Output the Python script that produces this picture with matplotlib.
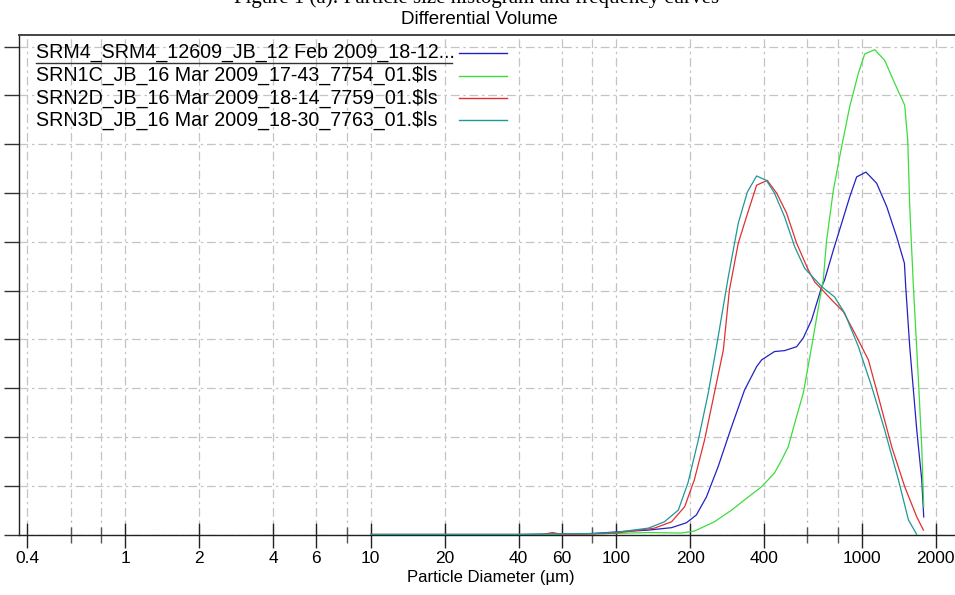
import matplotlib
matplotlib.use("Agg")
import matplotlib.pyplot as plt
from matplotlib.ticker import FixedLocator, NullFormatter, FixedFormatter
from matplotlib.lines import Line2D

# ---------------- data ----------------
labels = [
    "SRM4_SRM4_12609_JB_12 Feb 2009_18-12...",
    "SRN1C_JB_16 Mar 2009_17-43_7754_01.$ls",
    "SRN2D_JB_16 Mar 2009_18-14_7759_01.$ls",
    "SRN3D_JB_16 Mar 2009_18-30_7763_01.$ls",
]
colors = ["#2222c4", "#3ddc3d", "#e03030", "#1e9898"]

srm4_d = [10, 20, 40, 80, 98, 135, 168, 193, 212, 233, 260, 295, 333, 373, 391,
          441, 485, 543, 578, 625, 687, 706, 766, 828, 893, 953, 1040, 1150,
          1264, 1388, 1492, 1510, 1568, 1675, 1755, 1788]
srm4_v = [0, 0, 0, 0.02, 0.05, 0.09, 0.14, 0.24, 0.40, 0.77, 1.39, 2.21, 2.96,
          3.44, 3.58, 3.75, 3.77, 3.85, 4.03, 4.40, 5.08, 5.22, 5.83, 6.38, 6.92,
          7.33, 7.43, 7.20, 6.72, 6.10, 5.56, 5.08, 3.85, 2.14, 1.12, 0.36]

srn1c_d = [10, 20, 40, 80, 135, 184, 208, 251, 295, 345, 391, 441, 472, 502, 533,
           578, 625, 674, 697, 719, 766, 828, 893, 969, 1028, 1129, 1240, 1362,
           1496, 1539, 1568, 1623, 1701, 1755, 1788]
srn1c_v = [0, 0, 0, 0.01, 0.04, 0.03, 0.07, 0.26, 0.50, 0.77, 0.98, 1.26, 1.53,
           1.80, 2.28, 2.90, 3.85, 4.81, 5.22, 6.03, 7.06, 7.95, 8.77, 9.46, 9.85,
           9.94, 9.72, 9.25, 8.80, 8.08, 6.72, 5.08, 3.17, 1.80, 0.57]

srn2d_d = [10, 20, 50, 55, 60, 80, 100, 143, 168, 190, 208, 229, 251, 273, 289,
           314, 339, 373, 412, 450, 494, 543, 606, 643, 754, 841, 936, 1064, 1169,
           1324, 1496, 1675, 1783]
srn2d_v = [0, 0, 0, 0.04, 0, 0.01, 0.03, 0.13, 0.26, 0.57, 1.12, 1.94, 2.90, 3.78,
           5.01, 5.97, 6.51, 7.16, 7.26, 7.00, 6.59, 5.97, 5.42, 5.18, 4.81, 4.57,
           4.13, 3.58, 2.82, 1.80, 0.98, 0.36, 0.09]

srn3d_d = [10, 20, 40, 80, 98, 135, 157, 179, 196, 216, 237, 256, 286, 314, 342,
           373, 409, 441, 485, 533, 585, 687, 775, 852, 969, 1098, 1240, 1410,
           1549, 1675]
srn3d_v = [0, 0, 0, 0.02, 0.04, 0.13, 0.26, 0.50, 1.06, 1.94, 2.90, 3.85, 5.28,
           6.38, 7.02, 7.35, 7.26, 7.00, 6.51, 5.90, 5.46, 5.08, 4.87, 4.54, 3.85,
           3.03, 2.14, 1.12, 0.30, 0.0]

major_ticks = [0.4, 1, 2, 4, 6, 10, 20, 40, 60, 100, 200, 400, 1000, 2000]
major_labels = ["0.4", "1", "2", "4", "6", "10", "20", "40", "60", "100", "200",
                "400", "1000", "2000"]
minor_ticks = [0.6, 0.8, 8, 80, 600, 800]
y_ticks = list(range(0, 11))

title = "Differential Volume"
xlabel = "Particle Diameter (\u00b5m)"
caption = "Figure 1 (a): Particle size histogram and frequency curves"

# ---------------- figure ----------------
plt.rcParams["font.family"] = ["Liberation Sans", "DejaVu Sans"]
W, H = 955, 595
fig = plt.figure(figsize=(W / 100, H / 100), dpi=100)
left_px, right_px, top_px, bot_px = 19, 962, 35, 534.5
ax = fig.add_axes([left_px / W, 1 - bot_px / H, (right_px - left_px) / W,
                   (bot_px - top_px) / H])

series = [(srm4_d, srm4_v), (srn1c_d, srn1c_v), (srn2d_d, srn2d_v), (srn3d_d, srn3d_v)]
for (d, v), c, lab in zip(series, colors, labels):
    ax.plot(d, v, color=c, lw=0.9, label=lab, zorder=3)

ax.set_xscale("log")
ax.set_xlim(0.3695, 2560)
ax.set_ylim(0, 10.24)

ax.xaxis.set_major_locator(FixedLocator(major_ticks))
ax.xaxis.set_major_formatter(FixedFormatter(major_labels))
ax.xaxis.set_minor_locator(FixedLocator(minor_ticks))
ax.xaxis.set_minor_formatter(NullFormatter())
ax.set_yticks(y_ticks)
ax.set_yticklabels([])

ax.tick_params(axis="x", which="major", direction="inout", length=18, width=1,
               labelsize=12.5, pad=3, color="#222222")
ax.tick_params(axis="x", which="minor", direction="inout", length=12, width=1,
               color="#555555")
ax.tick_params(axis="y", which="major", direction="out", length=11, width=1,
               color="#333333")

grid_kw = dict(color="#c4c4c4", lw=0.9, linestyle=(0, (7, 3, 2, 3)), zorder=1)
ax.grid(True, which="major", axis="both", **grid_kw)
ax.grid(True, which="minor", axis="x", **grid_kw)
ax.set_axisbelow(True)

for s in ["left", "bottom"]:
    ax.spines[s].set_color("#222222")
    ax.spines[s].set_linewidth(1.0)
ax.spines["top"].set_color("#444444")
ax.spines["top"].set_linewidth(1.4)
ax.spines["right"].set_visible(False)

ax.set_xlabel(xlabel, fontsize=12, labelpad=3)

fig.text(479 / W, 1 - 19 / H, title, ha="center", va="center", fontsize=13.5)
fig.text(477 / W, 1 - 3 / H, caption, ha="center", va="baseline", fontsize=15,
         family=["Liberation Serif", "DejaVu Serif"])

# legend drawn in figure pixel coordinates (text left-aligned, line to the right)
def fx(px):
    return px / W

def fy(py):
    return 1 - py / H

row_y = [52.5, 75.5, 98.0, 120.0]
for lab, c, yy in zip(labels, colors, row_y):
    fig.text(fx(36), fy(yy), lab, ha="left", va="center", fontsize=14.1)
    fig.add_artist(Line2D([fx(459), fx(507)], [fy(yy), fy(yy)], color=c, lw=1.0,
                          transform=fig.transFigure))
fig.add_artist(Line2D([fx(36), fx(452)], [fy(62.5), fy(62.5)], color="#333333",
                      lw=1.0, transform=fig.transFigure))

fig.savefig("out.png", dpi=100)
